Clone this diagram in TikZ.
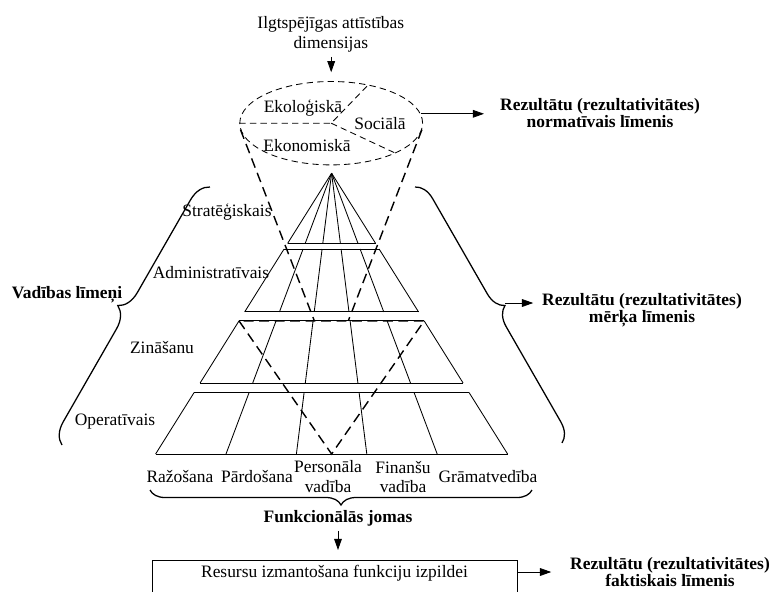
\documentclass[tikz,border=0pt]{standalone}
\usepackage{fontspec}
\setmainfont{Liberation Serif}
\usepackage{tikz}
\usetikzlibrary{shapes.geometric,decorations.pathreplacing,calc,arrows.meta}
\tikzstyle{arrow}=[line width=0.6pt, -{Triangle[length=8pt,width=5.5pt]}]
\tikzstyle{band}=[line width=0.6pt]
\tikzstyle{cone}=[line width=1pt, dash pattern=on 7pt off 4pt]
\tikzstyle{dimline}=[line width=0.6pt, dash pattern=on 4.5pt off 3pt]
\tikzstyle{curly}=[decorate, line width=0.9pt]
\tikzstyle{lbl}=[font=\fontsize{12.4}{14.2}\selectfont, align=center]
\tikzstyle{restext}=[font=\fontsize{12.4}{12.2}\selectfont\bfseries, align=center]

\begin{document}
\begin{tikzpicture}
    \useasboundingbox (0,0) rectangle (19.25,-14.775);

    % Pyramid corners
    \coordinate (apex) at (8.29,-4.33);
    \foreach \i in {0,...,5}
        \coordinate (b\i) at ({3.89+1.76*\i},-11.35);

    % Management levels
    \foreach \ta/\tb in {0/0.25, 0.27/0.494, 0.526/0.747, 0.781/1} {
        \draw[band] ($(apex)!\ta!(b0)$) -- ($(apex)!\ta!(b5)$);
        \draw[band] ($(apex)!\tb!(b0)$) -- ($(apex)!\tb!(b5)$);
        \foreach \i in {0,...,5}
            \draw[band] ($(apex)!\ta!(b\i)$) -- ($(apex)!\tb!(b\i)$);
    }

    \node[lbl] (strat) at (5.675,-5.3) {Stratēģiskais};
    \node[lbl] (admin) at (5.275,-6.825) {Administratīvais};
    \node[lbl] (zin) at (4.05,-8.7) {Zināšanu};
    \node[lbl] (oper) at (2.875,-10.55) {Operatīvais};

    % Dimensions
    \node[lbl] (dimtitle) at (8.27,-0.85) {Ilgtspējīgas attīstības\\dimensijas};
    \node[ellipse, draw, dimline, minimum width=4.57cm, minimum height=2.085cm, inner sep=0] (dims) at (8.28,-3.08) {};
    \draw[dimline] (dims.west) -- (dims.center) -- (dims.46);
    \draw[dimline] (dims.center) -- (dims.-25);
    \node[lbl] (eko) at (7.575,-2.7) {Ekoloģiskā};
    \node[lbl] (soc) at (9.5,-3.1) {Sociālā};
    \node[lbl] (ekon) at (7.675,-3.65) {Ekonomiskā};
    \draw[arrow, shorten >=0.22cm] (dims.north |- dimtitle.south) -- (dims.north);

    % Cone and reverse triangle
    \coordinate (zl) at ($(apex)!0.526!(b0)$);
    \coordinate (zr) at ($(apex)!0.526!(b5)$);
    \coordinate (bot) at ($(b0)!0.5!(b5)$);
    \draw[cone] (dims.184) -- ($(zl)!0.407!(zr)$);
    \draw[cone] (dims.-4) -- ($(zl)!0.59!(zr)$);
    \draw[cone] (zl) -- (bot) -- (zr) -- cycle;

    % Results
    \node[restext] (norm) at (15.0,-2.825) {Rezultātu (rezultativitātes)\\normatīvais līmenis};
    \draw[arrow, shorten >=0.28cm] (dims.6) -- (dims.6 -| norm.west);

    \node[restext] (levels) at (1.675,-7.375) {Vadības līmeņi};
    \draw[curly, decoration={brace, amplitude=0.525cm}] (1.55,-11.125) -- (5.25,-4.675);

    \draw[curly, decoration={brace, amplitude=0.475cm}] (10.375,-4.675) -- (14.05,-11.075);
    \coordinate (rtip) at (12.62,-7.575);
    \node[restext] (mrk) at (16.05,-7.75) {Rezultātu (rezultativitātes)\\mērķa līmenis};
    \draw[arrow, shorten >=0.1cm] (rtip) -- (rtip -| mrk.west);

    % Functional areas
    \foreach \x/\name/\txt in {4.5/razo/Ražošana, 6.425/pard/Pārdošana, 8.2/pers/{Personāla\\vadība}, 10.075/fin/{Finanšu\\vadība}, 12.2/gram/Grāmatvedība}
        \node[lbl] (\name) at (\x,-11.925) {\txt};
    \draw[curly, decoration={brace, amplitude=0.375cm}] (13.3,-12.25) -- (3.75,-12.25);
    \node[restext] (func) at (8.45,-12.95) {Funkcionālās jomas};

    \node[draw, band, lbl, anchor=north, minimum width=9.125cm, text height=0.3cm, text depth=0.5cm, inner ysep=0.125cm] (usage) at (8.3625,-14.0) {Resursu izmantošana funkciju izpildei};
    \draw[arrow, shorten >=0.25cm] (func.south) -- (func.south |- usage.north);

    \node[restext, inner ysep=1pt] (fakt) at (16.75,-14.3) {Rezultātu (rezultativitātes)\\faktiskais līmenis};
    \draw[arrow, shorten >=0.35cm] (usage.east |- fakt.west) -- (fakt.west);

\end{tikzpicture}
\end{document}
